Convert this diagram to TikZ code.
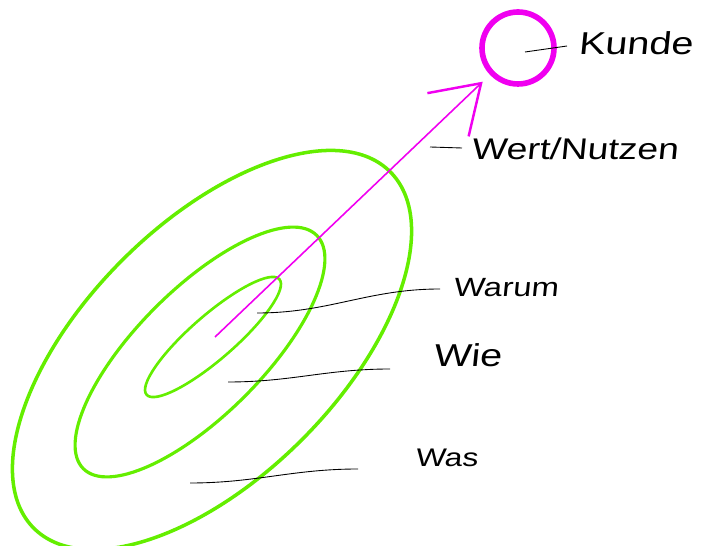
\documentclass[tikz,border=0pt]{standalone}
\usepackage{fontspec}
\newfontfamily\handfont[FakeStretch=1.25,FakeSlant=0.1]{Liberation Sans}
\usetikzlibrary{arrows.meta}
\definecolor{ringgreen}{RGB}{100,238,0}
\definecolor{pen}{RGB}{240,0,240}

\begin{document}
\begin{tikzpicture}[
  x=0.02cm, y=-0.02cm,
  ring/.style={draw=ringgreen},
  leader/.style={draw=black, line width=0.5pt},
  tag/.style={anchor=base west, inner sep=0pt, font=\handfont\fontsize{#1}{#1}\selectfont},
  tag/.default=17,
  vector/.style={draw=pen, line width=0.9pt, -{Straight Barb[length=26pt, width=34pt, line width=1.4pt]}}
]
\useasboundingbox (0,0) rectangle (703,546);

% the three rings
\draw[ring, line width=2pt, rotate around={45:(212,350)}] (212,350) ellipse [x radius=252, y radius=127];
\draw[ring, line width=1.8pt, rotate around={45:(200,352)}] (200,352) ellipse [x radius=165, y radius=63];
\draw[ring, line width=1.5pt, rotate around={41:(213,337)}] (213,337) ellipse [x radius=88, y radius=22];

% customer
\node[draw=pen, circle, line width=3.2pt, minimum size=1.44cm, inner sep=0pt] (target) at (518,48) {};
\coordinate (core) at (215,337);
\draw[vector, shorten >=0.2cm] (core) -- (target);

% labels
\node[tag=18]   (kunde) at (578,55)  {Kunde};
\node[tag=17]   (wert)  at (471,160) {Wert/Nutzen};
\node[tag=15]   (warum) at (453,297) {Warum};
\node[tag=18]   (wie)   at (433,367) {Wie};
\node[tag=14.5] (was)   at (415,467) {Was};

\coordinate (kundeA) at (525,52);  \coordinate (kundeB) at (567,46);
\coordinate (wertA)  at (430,147); \coordinate (wertB)  at (462,148);
\coordinate (warumA) at (257,313); \coordinate (warumB) at (440,289);
\coordinate (wieA)   at (228,382); \coordinate (wieB)   at (390,369);
\coordinate (wasA)   at (190,483); \coordinate (wasB)   at (358,469);

\draw[leader] (kundeA) -- (kundeB);
\draw[leader] (wertA) -- (wertB);
\draw[leader] (warumA) to[out=0,in=180] (warumB);
\draw[leader] (wieA) to[out=0,in=180] (wieB);
\draw[leader] (wasA) to[out=0,in=180] (wasB);

\end{tikzpicture}
\end{document}
